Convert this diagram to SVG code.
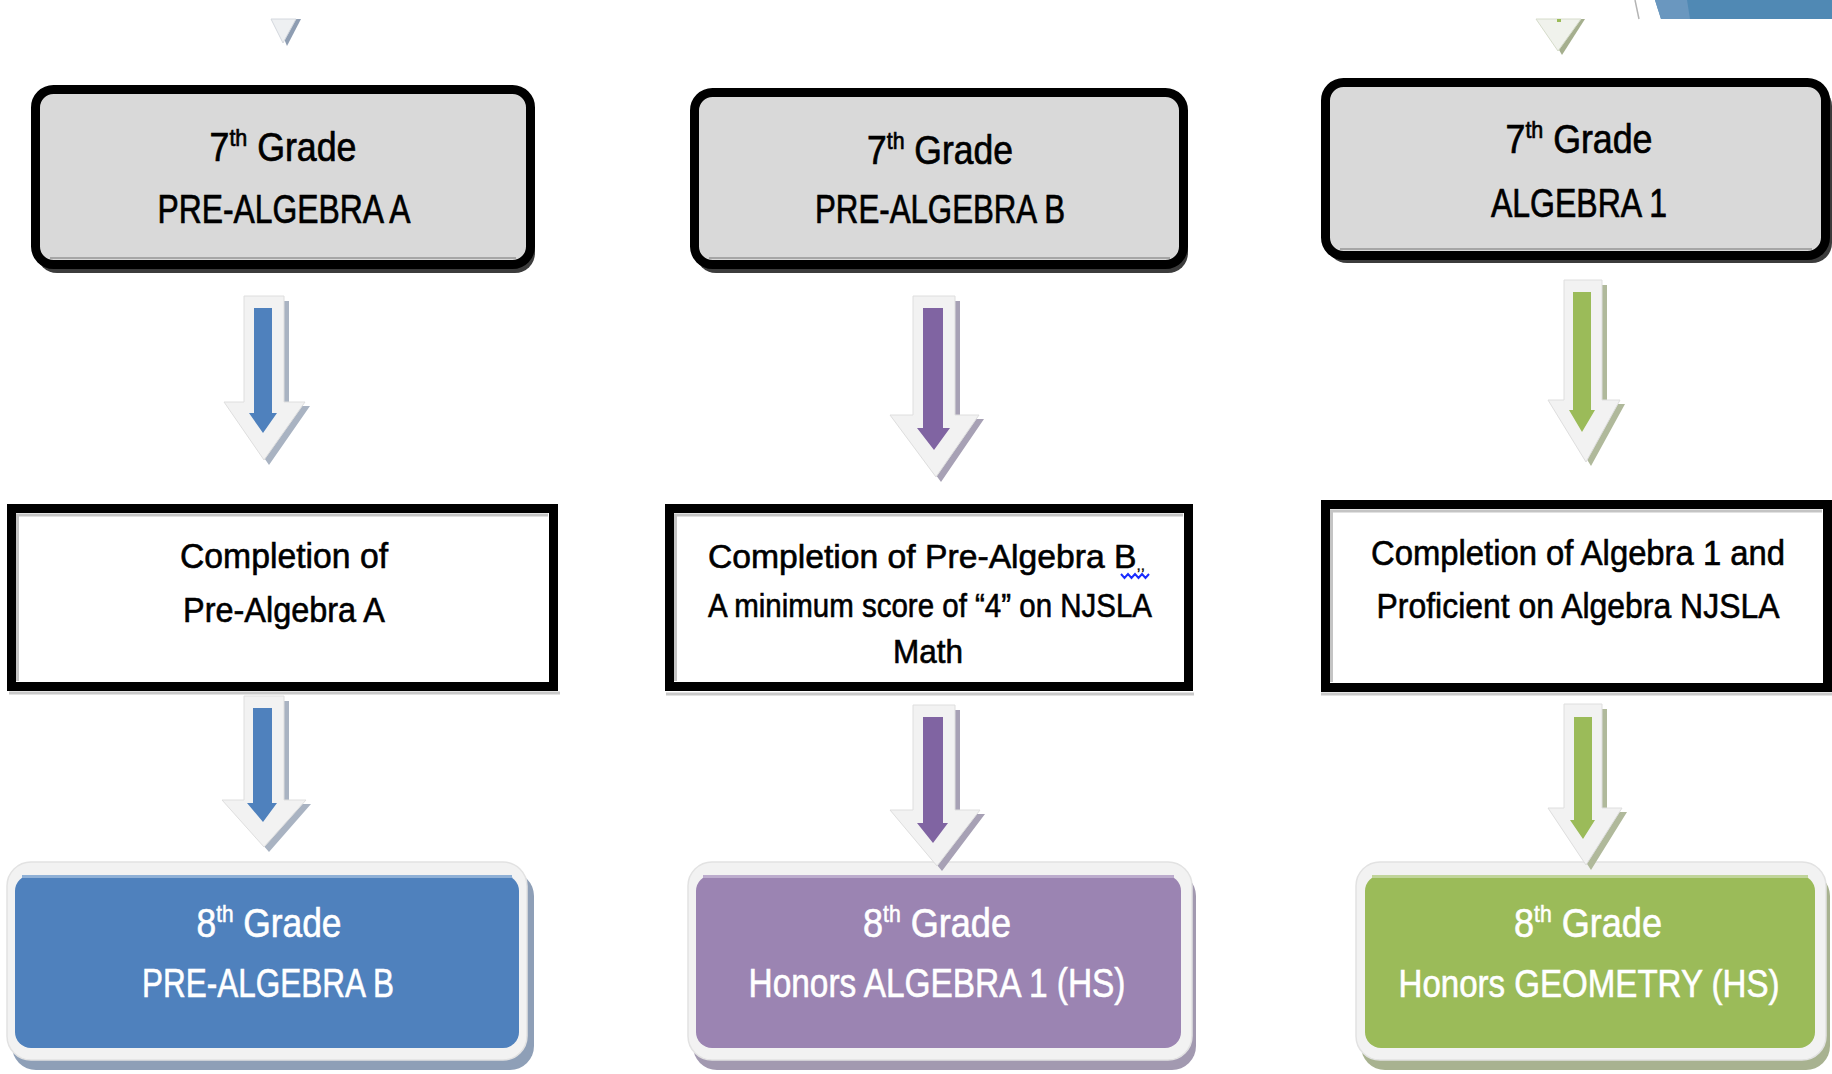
<svg xmlns="http://www.w3.org/2000/svg" width="1832" height="1074" viewBox="0 0 1832 1074">
<style>
text{font-family:"Liberation Sans",Arial,sans-serif;text-anchor:middle}
.t1{font-size:40px;fill:#000;stroke:#000;stroke-width:0.7}
.t2{font-size:35px;fill:#000;stroke:#000;stroke-width:0.6}
.t2s{font-size:33px;fill:#000;stroke:#000;stroke-width:0.6}
.t3{font-size:41px;fill:#fff;stroke:#fff;stroke-width:0.6}
.sup{font-size:24px}
.sub{font-size:15px}
.gbox{fill:#d9d9d9;stroke:#000;stroke-width:9}
.gshadow{fill:#3c3c3c}
.wbox{fill:#fff;stroke:#000;stroke-width:9}
.winner{fill:none;stroke:#c4c4c4;stroke-width:3}
.wshadow{fill:none;stroke:#c8c8c8;stroke-width:3}
.cborder{fill:#f2f2f2;stroke:#e2e2e2;stroke-width:1.5}
.aout{fill:#f2f2f2;stroke:#dedede;stroke-width:1}
</style>
<rect width="1832" height="1074" fill="#fff"/>

<!-- top remnants -->
<g id="top-remnants">
  <polygon points="276,19 301,19 287,46" fill="#8e9db2"/>
  <polygon points="271,19 296,19 283,43" fill="#eef0f2" stroke="#d4d8de" stroke-width="1"/>
  <polygon points="1541,19 1585,19 1562,55" fill="#a5af8e"/>
  <polygon points="1536,19 1581,19 1558,51" fill="#f0f2ec" stroke="#d6dccb" stroke-width="1"/>
  <rect x="1557" y="19" width="4" height="3" fill="#9bbb59"/>
  <line x1="1635" y1="0" x2="1639" y2="19" stroke="#b4b4b4" stroke-width="1.5"/>
  <polygon points="1655,0 1832,0 1832,19 1661,19" fill="#5089b4"/>
  <polygon points="1655,0 1687,0 1690,19 1661,19" fill="#6a97bf"/>
</g>

<!-- row 1 -->
<g id="g7-prealg-a">
  <rect class="gshadow" x="37" y="93" width="498" height="180" rx="20"/>
  <rect class="gbox" x="35.5" y="89.5" width="495" height="175" rx="18"/>
  <line x1="50" y1="258" x2="516" y2="258" stroke="#a6a6a6" stroke-width="2"/>
  <text class="t1" x="283" y="161" textLength="147" lengthAdjust="spacingAndGlyphs">7<tspan class="sup" dy="-15">th</tspan><tspan dy="15"> Grade</tspan></text>
  <text class="t1" x="284" y="223" textLength="253" lengthAdjust="spacingAndGlyphs">PRE-ALGEBRA A</text>
</g>
<g id="g7-prealg-b">
  <rect class="gshadow" x="696" y="96" width="492" height="177" rx="20"/>
  <rect class="gbox" x="694.5" y="92.5" width="489" height="172" rx="18"/>
  <line x1="709" y1="258" x2="1170" y2="258" stroke="#a6a6a6" stroke-width="2"/>
  <text class="t1" x="940" y="164" textLength="146" lengthAdjust="spacingAndGlyphs">7<tspan class="sup" dy="-15">th</tspan><tspan dy="15"> Grade</tspan></text>
  <text class="t1" x="940" y="223" textLength="250" lengthAdjust="spacingAndGlyphs">PRE-ALGEBRA B</text>
</g>
<g id="g7-alg1">
  <rect class="gshadow" x="1327" y="86" width="505" height="177" rx="20"/>
  <rect class="gbox" x="1325.5" y="82.5" width="500" height="173" rx="18"/>
  <line x1="1340" y1="249" x2="1812" y2="249" stroke="#a6a6a6" stroke-width="2"/>
  <text class="t1" x="1579" y="153" textLength="147" lengthAdjust="spacingAndGlyphs">7<tspan class="sup" dy="-15">th</tspan><tspan dy="15"> Grade</tspan></text>
  <text class="t1" x="1579" y="217" textLength="176" lengthAdjust="spacingAndGlyphs">ALGEBRA 1</text>
</g>

<!-- row 2 -->
<g id="req-a">
  <line class="wshadow" x1="9" y1="693" x2="560" y2="693"/>
  <rect class="wbox" x="11.5" y="508.5" width="542" height="178"/>
  <polyline class="winner" points="17.5,681 17.5,515 548,515"/>
  <text class="t2" x="284" y="568" textLength="208" lengthAdjust="spacingAndGlyphs">Completion of</text>
  <text class="t2" x="284" y="622" textLength="202" lengthAdjust="spacingAndGlyphs">Pre-Algebra A</text>
</g>
<g id="req-b">
  <line class="wshadow" x1="666" y1="694" x2="1194" y2="694"/>
  <rect class="wbox" x="669.5" y="508.5" width="519" height="178"/>
  <polyline class="winner" points="675.5,681 675.5,515 1183,515"/>
  <text class="t2s" x="926.5" y="568" textLength="437" lengthAdjust="spacingAndGlyphs">Completion of Pre-Algebra B<tspan class="sub" dy="2" style="stroke-width:0.3">,,</tspan></text>
  <path d="M1121,574 l3.5,4 l3.5,-4 l3.5,4 l3.5,-4 l3.5,4 l3.5,-4 l3.5,4 l3.5,-4" fill="none" stroke="#1a2cff" stroke-width="2"/>
  <text class="t2s" x="930" y="617" textLength="444" lengthAdjust="spacingAndGlyphs">A minimum score of “4” on NJSLA</text>
  <text class="t2s" x="928" y="663" textLength="70" lengthAdjust="spacingAndGlyphs">Math</text>
</g>
<g id="req-c">
  <line class="wshadow" x1="1321" y1="694" x2="1832" y2="694"/>
  <rect class="wbox" x="1325.5" y="504.5" width="502" height="183"/>
  <polyline class="winner" points="1331.5,682 1331.5,511 1822,511"/>
  <text class="t2" x="1578" y="565" textLength="414" lengthAdjust="spacingAndGlyphs">Completion of Algebra 1 and</text>
  <text class="t2" x="1578" y="618" textLength="403" lengthAdjust="spacingAndGlyphs">Proficient on Algebra NJSLA</text>
</g>

<!-- row 3 -->
<g id="g8-prealg-b">
  <rect x="12" y="872" width="522" height="198" rx="24" fill="#8e9fb7"/>
  <rect class="cborder" x="7" y="862" width="520" height="198" rx="24"/>
  <rect x="15" y="875" width="504" height="173" rx="16" fill="#4f81bd"/>
  <rect x="22" y="875" width="490" height="3" fill="#8fb0d6"/>
  <text class="t3" x="269" y="937" textLength="145" lengthAdjust="spacingAndGlyphs">8<tspan class="sup" dy="-15">th</tspan><tspan dy="15"> Grade</tspan></text>
  <text class="t3" x="268" y="997" textLength="252" lengthAdjust="spacingAndGlyphs">PRE-ALGEBRA B</text>
</g>
<g id="g8-hon-alg1">
  <rect x="693" y="872" width="503" height="198" rx="24" fill="#a299b0"/>
  <rect class="cborder" x="688" y="862" width="504" height="198" rx="24"/>
  <rect x="696" y="875" width="485" height="173" rx="16" fill="#9b84b2"/>
  <rect x="703" y="875" width="471" height="3" fill="#bcaccd"/>
  <text class="t3" x="937" y="937" textLength="148" lengthAdjust="spacingAndGlyphs">8<tspan class="sup" dy="-15">th</tspan><tspan dy="15"> Grade</tspan></text>
  <text class="t3" x="937" y="997" textLength="377" lengthAdjust="spacingAndGlyphs">Honors ALGEBRA 1 (HS)</text>
</g>
<g id="g8-hon-geom">
  <rect x="1361" y="872" width="469" height="198" rx="24" fill="#a8b290"/>
  <rect class="cborder" x="1356" y="862" width="470" height="198" rx="24"/>
  <rect x="1365" y="875" width="450" height="173" rx="16" fill="#9bbb59"/>
  <rect x="1372" y="875" width="436" height="3" fill="#c0d49a"/>
  <text class="t3" x="1588" y="937" textLength="148" lengthAdjust="spacingAndGlyphs">8<tspan class="sup" dy="-15">th</tspan><tspan dy="15"> Grade</tspan></text>
  <text class="t3" x="1589" y="997" style="font-size:38px" textLength="381" lengthAdjust="spacingAndGlyphs">Honors GEOMETRY (HS)</text>
</g>

<!-- connectors -->
<g id="connectors">
  <!-- A1 -->
  <path d="M249,301 H289 V406 H310 L269,465 L229,406 H249 Z" fill="#a9b3c2"/>
  <path class="aout" d="M244,296 H284 V402 H305 L264,460 L224,402 H244 Z"/>
  <path d="M254,308 H272 V413 H277 L263,433 L249,413 H254 Z" fill="#4f81bd"/>
  <!-- A2 -->
  <path d="M249,701 H289 V804 H311 L269,852 L227,804 H249 Z" fill="#a9b3c2"/>
  <path class="aout" d="M244,696 H284 V800 H306 L264,847 L222,800 H244 Z"/>
  <path d="M253,708 H272 V803 H277 L263,822 L247,803 H253 Z" fill="#4f81bd"/>
  <!-- B1 -->
  <path d="M918,301 H960 V419 H984 L941,482 L895,419 H918 Z" fill="#a7a1b5"/>
  <path class="aout" d="M913,296 H955 V415 H979 L936,477 L890,415 H913 Z"/>
  <path d="M923,308 H943 V428 H950 L934,450 L917,428 H923 Z" fill="#8064a2"/>
  <!-- B2 -->
  <path d="M918,710 H960 V814 H985 L942,871 L895,814 H918 Z" fill="#a7a1b5"/>
  <path class="aout" d="M913,705 H955 V810 H980 L937,866 L890,810 H913 Z"/>
  <path d="M923,717 H943 V823 H948 L933,843 L917,823 H923 Z" fill="#8064a2"/>
  <!-- C1 -->
  <path d="M1569,285 H1607 V404 H1625 L1591,466 L1553,404 H1569 Z" fill="#b0b99b"/>
  <path class="aout" d="M1564,280 H1602 V400 H1620 L1586,462 L1548,400 H1564 Z"/>
  <path d="M1573,292 H1591 V410 H1595 L1582,432 L1569,410 H1573 Z" fill="#9bbb59"/>
  <!-- C2 -->
  <path d="M1569,709 H1607 V812 H1627 L1591,870 L1553,812 H1569 Z" fill="#b0b99b"/>
  <path class="aout" d="M1564,704 H1602 V808 H1622 L1586,865 L1548,808 H1564 Z"/>
  <path d="M1574,717 H1592 V820 H1595 L1583,839 L1570,820 H1574 Z" fill="#9bbb59"/>
</g>
</svg>
